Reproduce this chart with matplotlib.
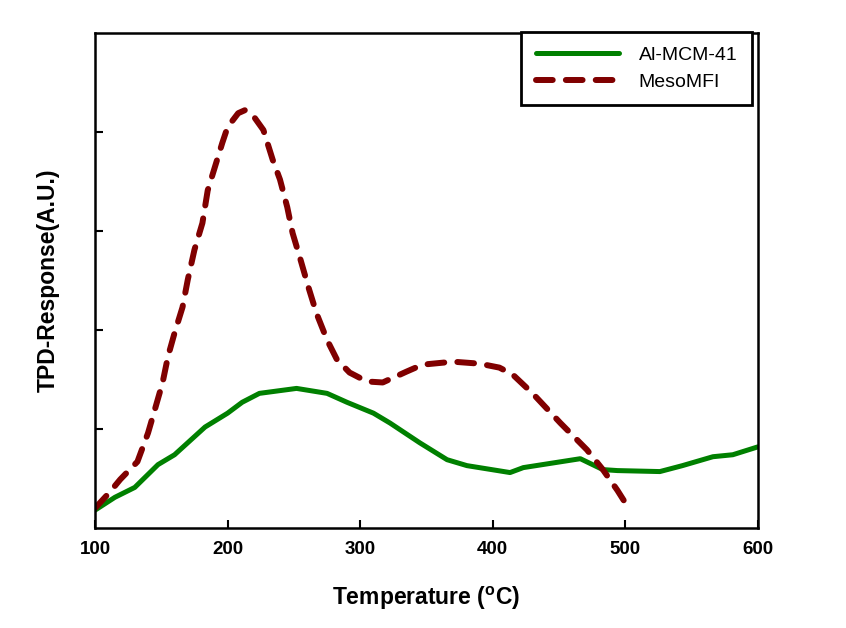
import matplotlib.pyplot as plt

# data
temp_mcm = [100, 115, 130, 147.5, 160, 183, 200, 211, 224, 252, 275, 290, 310,
            322.5, 345, 365.5, 380.5, 413, 423, 466, 483, 494, 526, 543, 566,
            581, 600]
resp_mcm = [0.18, 0.31, 0.41, 0.64, 0.74, 1.02, 1.16, 1.27, 1.36, 1.41, 1.36,
            1.27, 1.16, 1.06, 0.86, 0.69, 0.63, 0.56, 0.61, 0.70, 0.59, 0.58,
            0.57, 0.63, 0.72, 0.74, 0.82]

temp_mfi = [100, 111, 119, 132, 140, 145, 151, 155, 160, 166, 170, 175, 181,
            185, 190.5, 196, 200, 208, 213, 219, 227, 234, 239.5, 245, 249,
            255, 261, 267, 275, 282.5, 292, 305, 317, 335, 347, 370, 390, 405,
            415, 430, 451, 471, 483, 494, 502]
resp_mfi = [0.20, 0.36, 0.49, 0.67, 0.96, 1.19, 1.47, 1.73, 1.97, 2.23, 2.51,
            2.81, 3.08, 3.41, 3.65, 3.89, 4.05, 4.19, 4.22, 4.17, 4.02, 3.72,
            3.52, 3.24, 2.98, 2.71, 2.43, 2.17, 1.90, 1.70, 1.57, 1.48, 1.47,
            1.58, 1.65, 1.68, 1.66, 1.62, 1.55, 1.36, 1.06, 0.79, 0.59, 0.38,
            0.21]

xticks = [100, 200, 300, 400, 500, 600]

plt.rcParams['font.family'] = ['Liberation Sans', 'DejaVu Sans']

fig = plt.figure(figsize=(8.46, 6.28), dpi=100)
ax = fig.add_axes([95 / 846, 100 / 628, 663 / 846, 495 / 628])

ax.plot(temp_mcm, resp_mcm, color='#008000', lw=3.6, label='Al-MCM-41',
        solid_capstyle='round', solid_joinstyle='round')
ax.plot(temp_mfi, resp_mfi, color='#800000', lw=4.3, label='MesoMFI',
        dashes=[2.8, 2.2], dash_capstyle='round', dash_joinstyle='round')

ax.set_xlim(100, 600)
ax.set_ylim(0, 5)
ax.set_xticks(xticks)
ax.set_yticks([1, 2, 3, 4])
ax.set_yticklabels([])
ax.tick_params(direction='in', length=6, width=1.5)
ax.tick_params(axis='x', labelsize=13.5, pad=9)
for lab in ax.get_xticklabels():
    lab.set_fontweight('bold')
for sp in ax.spines.values():
    sp.set_linewidth(1.8)

ax.set_xlabel('Temperature ($\\mathregular{^{o}}$C)', fontsize=16.5,
              fontweight='bold', labelpad=20)
ax.set_ylabel('TPD-Response(A.U.)', fontsize=16.5, fontweight='bold', labelpad=22)

leg = ax.legend(loc='upper right', bbox_to_anchor=(752 / 846, 1 - 32 / 628),
                bbox_transform=fig.transFigure, fontsize=14, frameon=True,
                fancybox=False, edgecolor='black', handlelength=4.3,
                handletextpad=1.0, borderpad=0.75, labelspacing=0.45,
                borderaxespad=0)
leg.get_frame().set_linewidth(2)
leg.get_frame().set_alpha(1)

plt.savefig('out.png', dpi=100)
